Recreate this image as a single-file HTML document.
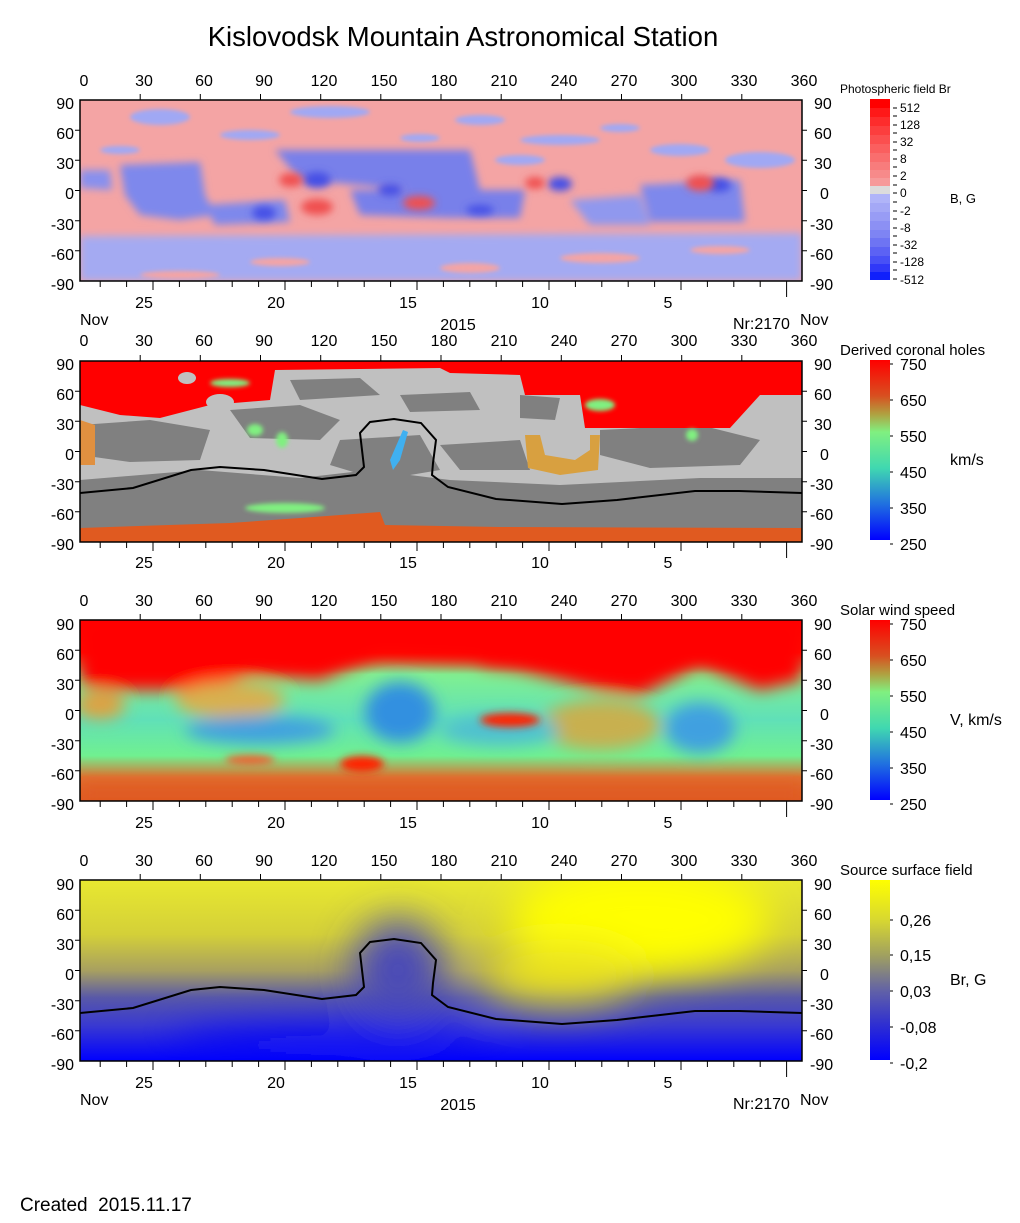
<!DOCTYPE html>
<html><head><meta charset="utf-8"><style>
html,body{margin:0;padding:0;background:#fff;}
svg{display:block;font-family:"Liberation Sans",Arial,sans-serif;}
</style></head><body>
<svg width="1020" height="1223" viewBox="0 0 1020 1223" xmlns="http://www.w3.org/2000/svg">
<defs>
<filter id="b4" x="-50%" y="-50%" width="200%" height="200%"><feGaussianBlur stdDeviation="4"/></filter>
<filter id="b8" x="-50%" y="-50%" width="200%" height="200%"><feGaussianBlur stdDeviation="8"/></filter>
<filter id="b2" x="-50%" y="-50%" width="200%" height="200%"><feGaussianBlur stdDeviation="2"/></filter>
<filter id="b20" x="-50%" y="-50%" width="200%" height="200%"><feGaussianBlur stdDeviation="20"/></filter>
<clipPath id="c1"><rect x="80" y="100" width="722" height="181"/></clipPath>
<clipPath id="c2"><rect x="80" y="361" width="722" height="181"/></clipPath>
<clipPath id="c3"><rect x="80" y="620" width="722" height="181"/></clipPath>
<clipPath id="c4"><rect x="80" y="880" width="722" height="181"/></clipPath>
<linearGradient id="gv" x1="0" y1="0" x2="0" y2="1">
<stop offset="0" stop-color="#ff0000"/><stop offset="0.2" stop-color="#d85020"/><stop offset="0.3" stop-color="#b0a040"/><stop offset="0.4" stop-color="#80f080"/><stop offset="0.6" stop-color="#40d8b0"/><stop offset="0.8" stop-color="#2070e0"/><stop offset="1" stop-color="#0000ff"/></linearGradient>
<linearGradient id="gs" x1="0" y1="0" x2="0" y2="1">
<stop offset="0" stop-color="#ffff00"/><stop offset="0.22" stop-color="#d8d830"/><stop offset="0.42" stop-color="#a0a060"/><stop offset="0.62" stop-color="#6060a8"/><stop offset="0.8" stop-color="#3030d0"/><stop offset="1" stop-color="#0000ff"/></linearGradient>
<linearGradient id="p4bg" x1="0" y1="0" x2="0" y2="1">
<stop offset="0" stop-color="#e8e830"/><stop offset="0.3" stop-color="#d4d038"/><stop offset="0.5" stop-color="#a8a060"/><stop offset="0.65" stop-color="#5858a8"/><stop offset="0.8" stop-color="#3a3ad0"/><stop offset="1" stop-color="#0000ff"/></linearGradient>
<linearGradient id="p3bg" x1="0" y1="0" x2="0" y2="1">
<stop offset="0" stop-color="#ff0000"/><stop offset="0.18" stop-color="#ff1000"/><stop offset="0.3" stop-color="#80f090"/><stop offset="0.55" stop-color="#60e0b8"/><stop offset="0.75" stop-color="#70f090"/><stop offset="0.87" stop-color="#e07030"/><stop offset="1" stop-color="#e05a20"/></linearGradient>
<g id="ax">
<path d="M100.2 0v6M126.6 0v6M153 0v9M179.4 0v6M205.8 0v6M232.2 0v6M258.6 0v6M285 0v9M311.4 0v6M337.8 0v6M364.2 0v6M390.6 0v6M417 0v9M443.4 0v6M469.8 0v6M496.2 0v6M522.6 0v6M549 0v9M575.4 0v6M601.8 0v6M628.2 0v6M654.6 0v6M681 0v9M707.4 0v6M733.8 0v6M760.2 0v6M786.6 0v16" stroke="#000" stroke-width="1" transform="translate(0,181)"/>
<path d="M140.2 0v-6M200.3 0v-6M260.5 0v-6M320.7 0v-6M380.8 0v-6M441 0v-6M501.2 0v-6M561.3 0v-6M621.5 0v-6M681.7 0v-6M741.8 0v-6" stroke="#000"/>
<path d="M80 30.2h-5M80 60.3h-5M80 90.5h-5M80 120.7h-5M80 150.8h-5M802 30.2h5M802 60.3h5M802 90.5h5M802 120.7h5M802 150.8h5" stroke="#000"/>
<rect x="80" y="0" width="722" height="181" fill="none" stroke="#000" stroke-width="1.5"/>
</g>
</defs>

<text x="463" y="46" font-size="27.5" text-anchor="middle">Kislovodsk Mountain Astronomical Station</text>

<!-- Panel 1 -->
<g clip-path="url(#c1)">
<rect x="80" y="100" width="722" height="181" fill="#f4a4a4"/>
<g filter="url(#b2)" fill="#a0a8f4">
<ellipse cx="160" cy="117" rx="30" ry="8"/><ellipse cx="330" cy="112" rx="40" ry="6"/><ellipse cx="480" cy="120" rx="25" ry="5"/>
<ellipse cx="250" cy="135" rx="30" ry="5"/><ellipse cx="560" cy="140" rx="40" ry="5"/><ellipse cx="680" cy="150" rx="30" ry="6"/><ellipse cx="760" cy="160" rx="35" ry="8"/>
<ellipse cx="420" cy="138" rx="20" ry="4"/><ellipse cx="620" cy="128" rx="20" ry="4"/><ellipse cx="120" cy="150" rx="20" ry="4"/><ellipse cx="520" cy="160" rx="25" ry="5"/>
</g>
<g filter="url(#b4)">
<path d="M120 165 L200 162 L205 195 L215 215 L180 220 L140 215 L125 195Z" fill="#7e88ec"/>
<path d="M205 205 L285 200 L290 222 L215 225Z" fill="#7e88ec"/>
<path d="M275 150 L470 150 L480 190 L430 192 L360 185 L300 180Z" fill="#7880ea"/>
<path d="M350 190 L525 190 L520 218 L450 218 L360 215Z" fill="#7880ea"/>
<path d="M640 185 L740 180 L745 222 L650 222Z" fill="#7e88ec"/>
<path d="M80 170 L110 170 L112 190 L80 188Z" fill="#8890ee"/>
<path d="M570 200 L640 195 L650 225 L590 225Z" fill="#9098ee"/>
<path d="M80 236 L802 233 L802 281 L80 281Z" fill="#a4aaf2"/>
</g>
<g filter="url(#b4)" fill="#4450e6">
<ellipse cx="317" cy="180" rx="14" ry="8"/><ellipse cx="264" cy="213" rx="12" ry="7"/><ellipse cx="560" cy="184" rx="12" ry="7"/><ellipse cx="719" cy="185" rx="12" ry="7"/><ellipse cx="390" cy="190" rx="12" ry="6"/><ellipse cx="480" cy="210" rx="14" ry="5"/>
</g>
<g filter="url(#b4)" fill="#f05050">
<ellipse cx="291" cy="180" rx="12" ry="7"/><ellipse cx="317" cy="207" rx="16" ry="8"/><ellipse cx="535" cy="183" rx="10" ry="6"/><ellipse cx="700" cy="183" rx="14" ry="8"/><ellipse cx="419" cy="203" rx="16" ry="7"/>
</g>
<g filter="url(#b2)" fill="#f4a4a4">
<ellipse cx="280" cy="262" rx="30" ry="4"/><ellipse cx="470" cy="268" rx="30" ry="5"/><ellipse cx="600" cy="258" rx="40" ry="5"/><ellipse cx="180" cy="275" rx="40" ry="4"/><ellipse cx="720" cy="250" rx="30" ry="4"/>
</g>
</g>
<use href="#ax" y="100"/>

<!-- Panel 2 -->
<g clip-path="url(#c2)">
<rect x="80" y="361" width="722" height="181" fill="#c0c0c0"/>
<g fill="#808080">
<path d="M80 425 L150 420 L210 430 L200 460 L130 462 L80 455Z"/>
<path d="M230 410 L300 405 L340 420 L320 440 L250 438Z"/>
<path d="M80 480 L200 470 L300 478 L370 470 L450 480 L560 485 L700 478 L802 478 L802 530 L80 530Z"/>
<path d="M340 440 L420 435 L440 470 L380 480 L330 465Z"/>
<path d="M600 430 L700 425 L760 440 L740 465 L650 468 L600 455Z"/>
<path d="M440 445 L520 440 L530 470 L460 470Z"/>
<path d="M290 380 L360 378 L380 395 L300 400Z"/>
<path d="M520 395 L560 398 L555 420 L520 418Z"/>
<path d="M400 395 L470 392 L480 410 L410 412Z"/>
<path d="M640 400 L700 398 L705 415 L645 416Z"/>
</g>
<path d="M80 361 H802 V395 L760 395 L730 428 L585 428 L580 395 L525 395 L520 375 L450 373 L440 368 L275 370 L270 400 L210 405 L160 418 L120 415 L80 405Z" fill="#ff0000"/>
<ellipse cx="187" cy="378" rx="9" ry="6" fill="#c0c0c0"/>
<ellipse cx="220" cy="402" rx="14" ry="8" fill="#c0c0c0"/>
<g filter="url(#b2)" fill="#80f080"><ellipse cx="230" cy="383" rx="20" ry="4"/><ellipse cx="255" cy="430" rx="8" ry="6"/><ellipse cx="282" cy="440" rx="6" ry="8"/><ellipse cx="600" cy="405" rx="15" ry="6"/><ellipse cx="692" cy="435" rx="6" ry="6"/></g>
<path d="M525 435 L540 435 L545 455 L575 460 L590 450 L590 435 L600 435 L598 470 L560 475 L528 468Z" fill="#d8a040"/>
<path d="M80 420 L95 425 L95 465 L80 465Z" fill="#e09040"/>
<path d="M80 528 L230 523 L300 518 L380 512 L385 525 L500 527 L802 528 L802 542 L80 542Z" fill="#e05a20"/>
<ellipse cx="285" cy="508" rx="40" ry="5" fill="#80f080" filter="url(#b2)"/>
<path d="M403 430 L408 432 L400 460 L393 470 L390 460Z" fill="#40b0f0"/>
<path d="M79.5 493 L133 488 L191 470 L220 467 L264 470 L322 479 L356 475 L364 467 L360 433 L370 422 L394 419 L421 423 L436 440 L433 463 L432 475 L448 487 L496 499 L562 504 L617 500 L695 491 L739 491 L802 493" fill="none" stroke="#000" stroke-width="2"/>
</g>
<use href="#ax" y="361"/>

<!-- Panel 3 -->
<g clip-path="url(#c3)">
<rect x="80" y="620" width="722" height="181" fill="url(#p3bg)"/>
<g filter="url(#b8)">
<path d="M80 620 H802 V680 L760 690 L700 665 L640 695 L600 690 L560 660 L470 660 L380 655 L320 680 L250 675 L200 690 L120 690 L80 685Z" fill="#ff0000"/>
<path d="M80 620 L312 620 L312 665 L240 672 L200 682 L120 685 L80 680Z" fill="#ff0000"/>
<path d="M480 648 L640 648 L645 690 L600 690 L520 670 L480 665Z" fill="#ff0000"/>
<ellipse cx="230" cy="700" rx="55" ry="18" fill="#d8b050"/>
<ellipse cx="100" cy="705" rx="25" ry="14" fill="#e0a040"/>
<ellipse cx="600" cy="725" rx="60" ry="25" fill="#c8b050"/>
<ellipse cx="400" cy="712" rx="35" ry="30" fill="#3090e0"/>
<ellipse cx="260" cy="730" rx="75" ry="14" fill="#40a0e0"/>
<ellipse cx="700" cy="728" rx="35" ry="25" fill="#40a0e0"/>
<ellipse cx="500" cy="730" rx="60" ry="15" fill="#50c0d0"/>
<path d="M80 785 H802 V801 H80Z" fill="#e05a20"/>
</g>
<g filter="url(#b4)" fill="#ff2000">
<ellipse cx="362" cy="764" rx="22" ry="8"/><ellipse cx="510" cy="720" rx="30" ry="7"/><ellipse cx="250" cy="760" rx="25" ry="5" fill="#f06030"/>
</g>
</g>
<use href="#ax" y="620"/>

<!-- Panel 4 -->
<g clip-path="url(#c4)">
<rect x="80" y="880" width="722" height="181" fill="url(#p4bg)"/>
<g filter="url(#b20)">
<ellipse cx="640" cy="920" rx="130" ry="55" fill="#ffff00"/>
<ellipse cx="560" cy="975" rx="80" ry="30" fill="#e8e020"/>
<ellipse cx="398" cy="970" rx="45" ry="50" fill="#4848b8"/>
<ellipse cx="330" cy="1045" rx="160" ry="15" fill="#0808f8"/>
</g>
<path d="M79.5 1013 L133 1008 L191 990 L220 987 L264 990 L322 999 L356 995 L364 987 L360 953 L370 942 L394 939 L421 943 L436 960 L433 983 L432 995 L448 1007 L496 1019 L562 1024 L617 1020 L695 1011 L739 1011 L802 1013" fill="none" stroke="#000" stroke-width="2"/>
</g>
<use href="#ax" y="880"/>

<!-- axis labels -->
<g font-size="16" text-anchor="middle">
<g>
<text x="84" y="86">0</text><text x="144" y="86">30</text><text x="204" y="86">60</text><text x="264" y="86">90</text><text x="324" y="86">120</text><text x="384" y="86">150</text><text x="444" y="86">180</text><text x="504" y="86">210</text><text x="564" y="86">240</text><text x="624" y="86">270</text><text x="684" y="86">300</text><text x="744" y="86">330</text><text x="804" y="86">360</text>
</g>
<g transform="translate(0,260)"><text x="84" y="86">0</text><text x="144" y="86">30</text><text x="204" y="86">60</text><text x="264" y="86">90</text><text x="324" y="86">120</text><text x="384" y="86">150</text><text x="444" y="86">180</text><text x="504" y="86">210</text><text x="564" y="86">240</text><text x="624" y="86">270</text><text x="684" y="86">300</text><text x="744" y="86">330</text><text x="804" y="86">360</text></g>
<g transform="translate(0,520)"><text x="84" y="86">0</text><text x="144" y="86">30</text><text x="204" y="86">60</text><text x="264" y="86">90</text><text x="324" y="86">120</text><text x="384" y="86">150</text><text x="444" y="86">180</text><text x="504" y="86">210</text><text x="564" y="86">240</text><text x="624" y="86">270</text><text x="684" y="86">300</text><text x="744" y="86">330</text><text x="804" y="86">360</text></g>
<g transform="translate(0,780)"><text x="84" y="86">0</text><text x="144" y="86">30</text><text x="204" y="86">60</text><text x="264" y="86">90</text><text x="324" y="86">120</text><text x="384" y="86">150</text><text x="444" y="86">180</text><text x="504" y="86">210</text><text x="564" y="86">240</text><text x="624" y="86">270</text><text x="684" y="86">300</text><text x="744" y="86">330</text><text x="804" y="86">360</text></g>
</g>
<g font-size="16">
<g text-anchor="end">
<text x="74" y="109">90</text><text x="74" y="139">60</text><text x="74" y="169">30</text><text x="74" y="199">0</text><text x="74" y="230">-30</text><text x="74" y="260">-60</text><text x="74" y="290">-90</text>
<text x="74" y="370">90</text><text x="74" y="400">60</text><text x="74" y="430">30</text><text x="74" y="460">0</text><text x="74" y="490">-30</text><text x="74" y="520">-60</text><text x="74" y="550">-90</text>
<text x="74" y="630">90</text><text x="74" y="660">60</text><text x="74" y="690">30</text><text x="74" y="720">0</text><text x="74" y="750">-30</text><text x="74" y="780">-60</text><text x="74" y="810">-90</text>
<text x="74" y="890">90</text><text x="74" y="920">60</text><text x="74" y="950">30</text><text x="74" y="980">0</text><text x="74" y="1010">-30</text><text x="74" y="1040">-60</text><text x="74" y="1070">-90</text>
</g>
<g text-anchor="start">
<text x="814" y="109">90</text><text x="814" y="139">60</text><text x="814" y="169">30</text><text x="820" y="199">0</text><text x="810" y="230">-30</text><text x="810" y="260">-60</text><text x="810" y="290">-90</text>
<text x="814" y="370">90</text><text x="814" y="400">60</text><text x="814" y="430">30</text><text x="820" y="460">0</text><text x="810" y="490">-30</text><text x="810" y="520">-60</text><text x="810" y="550">-90</text>
<text x="814" y="630">90</text><text x="814" y="660">60</text><text x="814" y="690">30</text><text x="820" y="720">0</text><text x="810" y="750">-30</text><text x="810" y="780">-60</text><text x="810" y="810">-90</text>
<text x="814" y="890">90</text><text x="814" y="920">60</text><text x="814" y="950">30</text><text x="820" y="980">0</text><text x="810" y="1010">-30</text><text x="810" y="1040">-60</text><text x="810" y="1070">-90</text>
</g>
<g text-anchor="middle">
<text x="144" y="308">25</text><text x="276" y="308">20</text><text x="408" y="308">15</text><text x="540" y="308">10</text><text x="668" y="308">5</text>
<text x="144" y="568">25</text><text x="276" y="568">20</text><text x="408" y="568">15</text><text x="540" y="568">10</text><text x="668" y="568">5</text>
<text x="144" y="828">25</text><text x="276" y="828">20</text><text x="408" y="828">15</text><text x="540" y="828">10</text><text x="668" y="828">5</text>
<text x="144" y="1088">25</text><text x="276" y="1088">20</text><text x="408" y="1088">15</text><text x="540" y="1088">10</text><text x="668" y="1088">5</text>
<text x="458" y="330">2015</text><text x="458" y="1110">2015</text>
</g>
<text x="80" y="325">Nov</text><text x="733" y="329">Nr:2170</text><text x="800" y="325">Nov</text>
<text x="80" y="1105">Nov</text><text x="733" y="1109">Nr:2170</text><text x="800" y="1105">Nov</text>
<text x="20" y="1211" font-size="19">Created&#160;&#160;2015.11.17</text>
</g>

<!-- Colorbar 1 -->
<text x="840" y="93" font-size="12">Photospheric field Br</text>
<g>
<rect x="870" y="99" width="20" height="9" fill="#ff0000"/><rect x="870" y="108" width="20" height="9" fill="#fe1818"/><rect x="870" y="117" width="20" height="9" fill="#fd2c2c"/><rect x="870" y="126" width="20" height="9" fill="#fc3e3e"/><rect x="870" y="135" width="20" height="9" fill="#fb4f4f"/><rect x="870" y="144" width="20" height="9" fill="#fa5f5f"/><rect x="870" y="153" width="20" height="9" fill="#f96e6e"/><rect x="870" y="162" width="20" height="8" fill="#f87c7c"/><rect x="870" y="170" width="20" height="8" fill="#f78a8a"/><rect x="870" y="178" width="20" height="8" fill="#f69a9a"/>
<rect x="870" y="186" width="20" height="8" fill="#dcdcdc"/>
<rect x="870" y="194" width="20" height="9" fill="#b0b4f8"/><rect x="870" y="203" width="20" height="9" fill="#a4a8f6"/><rect x="870" y="212" width="20" height="9" fill="#989cf5"/><rect x="870" y="221" width="20" height="9" fill="#8c90f4"/><rect x="870" y="230" width="20" height="8" fill="#7e84f3"/><rect x="870" y="238" width="20" height="9" fill="#6e74f3"/><rect x="870" y="247" width="20" height="9" fill="#5c62f4"/><rect x="870" y="256" width="20" height="8" fill="#4850f6"/><rect x="870" y="264" width="20" height="8" fill="#3038f8"/><rect x="870" y="272" width="20" height="8" fill="#1020fb"/>
</g>
<path d="M893 108h4M893 116h4M893 125h4M893 133h4M893 142h4M893 150h4M893 159h4M893 167h4M893 176h4M893 185h4M893 193h4M893 202h4M893 211h4M893 219h4M893 228h4M893 236h4M893 245h4M893 253h4M893 262h4M893 270h4M893 279h4" stroke="#000"/>
<g font-size="12">
<text x="900" y="112">512</text><text x="900" y="129">128</text><text x="900" y="146">32</text><text x="900" y="163">8</text><text x="900" y="180">2</text><text x="900" y="197">0</text><text x="900" y="215">-2</text><text x="900" y="232">-8</text><text x="900" y="249">-32</text><text x="900" y="266">-128</text><text x="900" y="284">-512</text>
<text x="950" y="203" font-size="13">B, G</text>
</g>

<!-- Colorbar 2 -->
<text x="840" y="355" font-size="15">Derived coronal holes</text>
<rect x="870" y="360" width="20" height="180" fill="url(#gv)"/>
<path d="M890 364h3M890 400h3M890 436h3M890 472h3M890 508h3M890 544h3" stroke="#000"/>
<g font-size="16"><text x="900" y="370">750</text><text x="900" y="406">650</text><text x="900" y="442">550</text><text x="900" y="478">450</text><text x="900" y="514">350</text><text x="900" y="550">250</text><text x="950" y="465">km/s</text></g>

<!-- Colorbar 3 -->
<text x="840" y="615" font-size="15">Solar wind speed</text>
<rect x="870" y="620" width="20" height="180" fill="url(#gv)"/>
<path d="M890 624h3M890 660h3M890 696h3M890 732h3M890 768h3M890 804h3" stroke="#000"/>
<g font-size="16"><text x="900" y="630">750</text><text x="900" y="666">650</text><text x="900" y="702">550</text><text x="900" y="738">450</text><text x="900" y="774">350</text><text x="900" y="810">250</text><text x="950" y="725">V, km/s</text></g>

<!-- Colorbar 4 -->
<text x="840" y="875" font-size="15">Source surface field</text>
<rect x="870" y="880" width="20" height="180" fill="url(#gs)"/>
<path d="M890 920h3M890 955h3M890 991h3M890 1027h3M890 1063h3" stroke="#000"/>
<g font-size="16"><text x="900" y="926">0,26</text><text x="900" y="961">0,15</text><text x="900" y="997">0,03</text><text x="900" y="1033">-0,08</text><text x="900" y="1069">-0,2</text><text x="950" y="985">Br, G</text></g>
</svg>
</body></html>
